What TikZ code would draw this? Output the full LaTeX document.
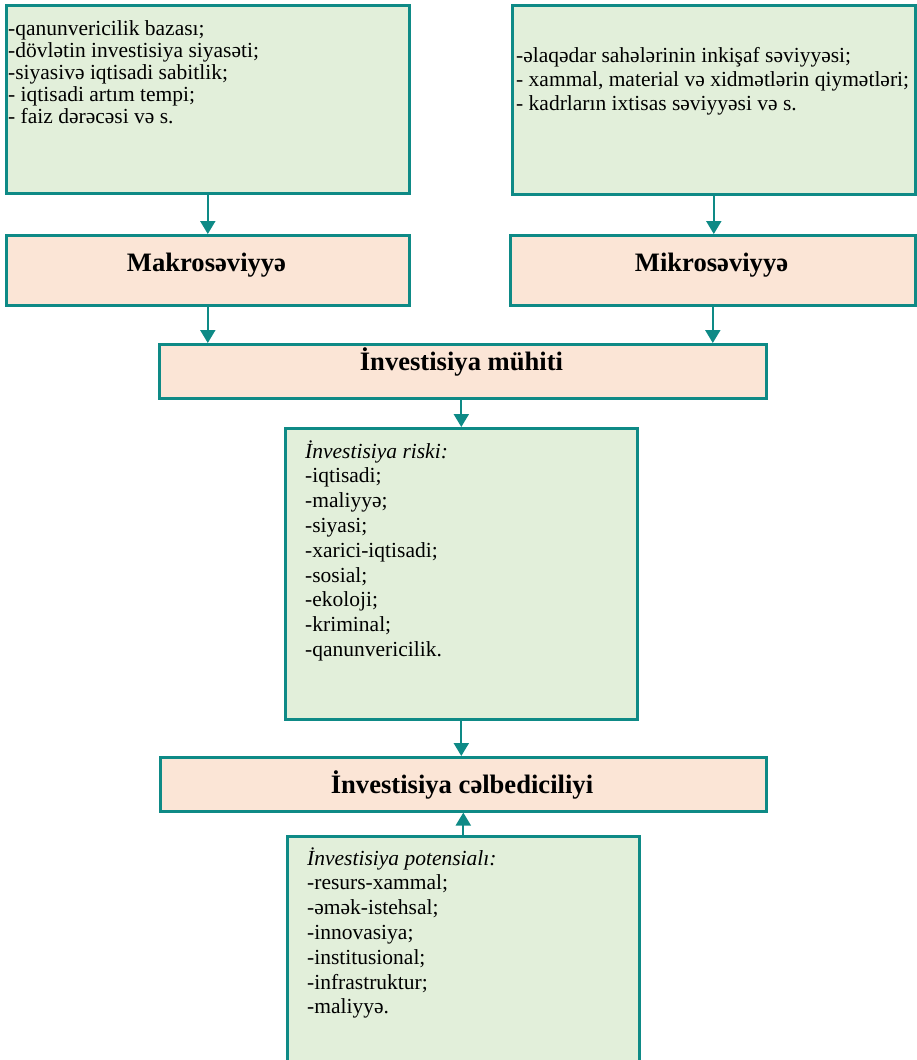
\documentclass[tikz,border=0pt]{standalone}
\usepackage{fontspec}
\setmainfont{Liberation Serif}
\usetikzlibrary{arrows.meta}
\definecolor{bord}{HTML}{0E8A86}
\definecolor{gfill}{HTML}{E2EFDA}
\definecolor{pfill}{HTML}{FBE5D6}
\begin{document}
\begin{tikzpicture}[x=1pt,y=-1pt,
  gbox/.style={draw=bord,line width=2.6pt,fill=gfill,rectangle,inner sep=0pt,anchor=north west},
  pbox/.style={draw=bord,line width=2.6pt,fill=pfill,rectangle,inner sep=0pt,anchor=north west},
  title/.style={anchor=base,inner sep=0pt,font=\fontsize{26.6}{30}\selectfont\bfseries},
  body/.style={anchor=base west,inner sep=0pt,font=\fontsize{21.5}{22}\selectfont},
  arr/.style={draw=bord,line width=2.2pt,-{Triangle[width=15pt,length=13pt]}}]
\useasboundingbox (0,0) rectangle (917,1060);
\clip (0,0) rectangle (917,1060);
% top boxes
\node[gbox,minimum width=403pt,minimum height=188pt] (tl) at (5,4) {};
\node[body] (tltext) at (8,35) {\vtop{\baselineskip=22pt
  \hbox{-qanunvericilik bazası;}\hbox{-dövlətin investisiya siyasəti;}\hbox{-siyasivə iqtisadi sabitlik;}\hbox{- iqtisadi artım tempi;}\hbox{- faiz dərəcəsi və s.}}};
\node[gbox,minimum width=403pt,minimum height=189pt] (tr) at (511,4) {};
\node[body] (trtext) at (516,62) {\vtop{\baselineskip=24pt
  \hbox{-əlaqədar sahələrinin inkişaf səviyyəsi;}\hbox{- xammal, material və xidmətlərin qiymətləri;}\hbox{- kadrların ixtisas səviyyəsi və s.}}};
% level boxes
\node[pbox,minimum width=403pt,minimum height=70pt] (makro) at (5,234) {};
\node[title] (makrot) at (206.5,271) {Makrosəviyyə};
\node[pbox,minimum width=405pt,minimum height=70pt] (mikro) at (509,234) {};
\node[title] (mikrot) at (711.5,271) {Mikrosəviyyə};
\node[pbox,minimum width=607pt,minimum height=54pt] (muhiti) at (158,343) {};
\node[title] (muhitit) at (461.5,370) {İnvestisiya mühiti};
% risk box
\node[gbox,minimum width=352pt,minimum height=291pt] (risk) at (284,427) {};
\node[body] (risktext) at (305,458) {\vtop{\baselineskip=24.8pt
  \hbox{\itshape İnvestisiya riski:}\hbox{-iqtisadi;}\hbox{-maliyyə;}\hbox{-siyasi;}\hbox{-xarici-iqtisadi;}\hbox{-sosial;}\hbox{-ekoloji;}\hbox{-kriminal;}\hbox{-qanunvericilik.}}};
% celbedicilik
\node[pbox,minimum width=606pt,minimum height=54pt] (celb) at (159,756) {};
\node[title] (celbt) at (462,793) {İnvestisiya cəlbediciliyi};
% potensial box
\node[gbox,minimum width=352pt,minimum height=240pt] (pot) at (286,835) {};
\node[body] (pottext) at (307,865) {\vtop{\baselineskip=24.8pt
  \hbox{\itshape İnvestisiya potensialı:}\hbox{-resurs-xammal;}\hbox{-əmək-istehsal;}\hbox{-innovasiya;}\hbox{-institusional;}\hbox{-infrastruktur;}\hbox{-maliyyə.}}};
% connectors
\draw[arr] (tl.south) -- (makro.north);
\draw[arr] (tr.south) -- (tr.south |- mikro.north);
\draw[arr] (makro.south) -- (makro.south |- muhiti.north);
\draw[arr] (mikro.south) -- (mikro.south |- muhiti.north);
\draw[arr] (muhiti.south -| risk.north) -- (risk.north);
\draw[arr] (risk.south) -- (risk.south |- celb.north);
\draw[arr] (pot.north) -- (pot.north |- celb.south);
\end{tikzpicture}
\end{document}
